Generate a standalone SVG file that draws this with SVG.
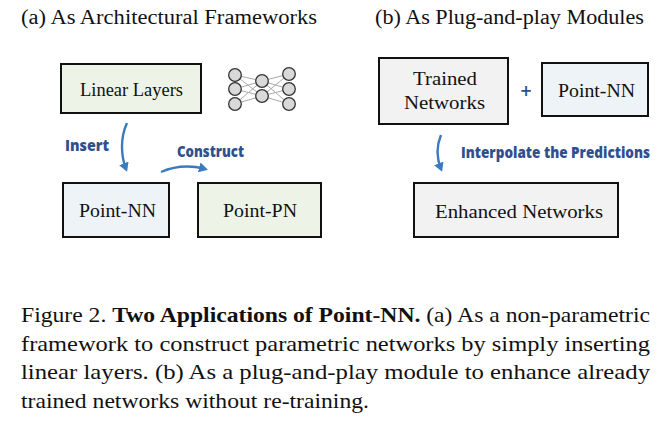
<svg xmlns="http://www.w3.org/2000/svg" width="667" height="421" viewBox="0 0 667 421">
<defs>
<style>
.title{font-family:"Liberation Serif","Times New Roman",serif;font-size:20px;fill:#111}
.box{stroke:#111;stroke-width:2}
.lbl{font-family:"Liberation Serif","Times New Roman",serif;font-size:18px;fill:#111;text-anchor:middle}
.hand{font-family:"Open Sans","DejaVu Sans",sans-serif;font-weight:800;font-size:15.5px;fill:#2f4f8f}
.arr{fill:none;stroke:#3a7bbf;stroke-width:2.4;marker-end:url(#ah)}
.cap{font-family:"Liberation Serif","Times New Roman",serif;font-size:22px;fill:#111}
.nnl{stroke:#aaa;stroke-width:1}
.nnc{fill:#d9d9d9;stroke:#333;stroke-width:1.3}
</style>
<marker id="ah" markerWidth="11" markerHeight="11" refX="6" refY="5.5" orient="auto" markerUnits="userSpaceOnUse">
<path d="M0,0.5 L9,5.5 L0,10.5 Z" fill="#3a7bbf"/>
</marker>
</defs>
<rect width="667" height="421" fill="#fff"/>
<text class="title" x="21" y="24" textLength="296" lengthAdjust="spacingAndGlyphs">(a) As Architectural Frameworks</text>
<text class="title" x="375" y="24" textLength="269" lengthAdjust="spacingAndGlyphs">(b) As Plug-and-play Modules</text>

<g id="linear-layers">
<rect class="box" x="61" y="64" width="140" height="49" fill="#eef3e7"/>
<text class="lbl" x="131.5" y="96" textLength="103" lengthAdjust="spacingAndGlyphs">Linear Layers</text>
</g>
<g id="nn-icon">
<g class="nnl">
<line x1="235" y1="75" x2="262" y2="81"/><line x1="235" y1="75" x2="262" y2="96"/>
<line x1="235" y1="89" x2="262" y2="81"/><line x1="235" y1="89" x2="262" y2="96"/>
<line x1="235" y1="104" x2="262" y2="81"/><line x1="235" y1="104" x2="262" y2="96"/>
<line x1="262" y1="81" x2="289" y2="74"/><line x1="262" y1="81" x2="289" y2="89"/><line x1="262" y1="81" x2="289" y2="104"/>
<line x1="262" y1="96" x2="289" y2="74"/><line x1="262" y1="96" x2="289" y2="89"/><line x1="262" y1="96" x2="289" y2="104"/>
</g>
<g class="nnc">
<circle cx="235" cy="75" r="6.3"/><circle cx="235" cy="89" r="6.3"/><circle cx="235" cy="104" r="6.3"/>
<circle cx="262" cy="81" r="6.3"/><circle cx="262" cy="96" r="6.3"/>
<circle cx="289" cy="74" r="6.3"/><circle cx="289" cy="89" r="6.3"/><circle cx="289" cy="104" r="6.3"/>
</g>
</g>
<g id="point-nn-a">
<rect class="box" x="63" y="183" width="106" height="54" fill="#eef3f8"/>
<text class="lbl" x="117.5" y="217" textLength="77" lengthAdjust="spacingAndGlyphs">Point-NN</text>
</g>
<g id="point-pn">
<rect class="box" x="198" y="183" width="123" height="54" fill="#eef3e7"/>
<text class="lbl" x="260" y="217" textLength="74" lengthAdjust="spacingAndGlyphs">Point-PN</text>
</g>
<g id="trained-networks">
<rect class="box" x="379" y="58" width="129" height="66" fill="#f2f2f2"/>
<text class="lbl" x="445" y="85" textLength="64" lengthAdjust="spacingAndGlyphs">Trained</text>
<text class="lbl" x="444.5" y="109" textLength="81" lengthAdjust="spacingAndGlyphs">Networks</text>
</g>
<g id="point-nn-b">
<rect class="box" x="542" y="63" width="106" height="53" fill="#eef3f8"/>
<text class="lbl" x="596.5" y="97" textLength="77" lengthAdjust="spacingAndGlyphs">Point-NN</text>
</g>
<g id="enhanced-networks">
<rect class="box" x="414" y="183" width="204" height="54" fill="#f2f2f2"/>
<text class="lbl" x="519" y="218" textLength="168" lengthAdjust="spacingAndGlyphs">Enhanced Networks</text>
</g>

<g id="connectors">
<path class="arr" d="M127,123 C120,138 121,156 126,169"/>
<path class="arr" d="M161,172 C175,166 190,165 205,169"/>
<path class="arr" d="M441,135 C436,147 437,159 441,169"/>
</g>
<text class="hand" x="65" y="151" textLength="44" lengthAdjust="spacingAndGlyphs">Insert</text>
<text class="hand" x="177" y="157" textLength="67" lengthAdjust="spacingAndGlyphs">Construct</text>
<text class="hand" transform="translate(461,158) scale(1.3)" x="0" y="0" style="font-size:11.9px" textLength="145.4" lengthAdjust="spacingAndGlyphs">Interpolate the Predictions</text>
<text x="526" y="96" style="font-family:'DejaVu Sans',sans-serif;font-weight:bold;font-size:15px;fill:#2f4f8f" text-anchor="middle">+</text>

<g class="cap">
<text x="21" y="322" textLength="629" lengthAdjust="spacingAndGlyphs">Figure 2. <tspan font-weight="bold">Two Applications of Point-NN.</tspan> (a) As a non-parametric</text>
<text x="21" y="350.5" textLength="629" lengthAdjust="spacingAndGlyphs">framework to construct parametric networks by simply inserting</text>
<text x="21" y="379" textLength="629" lengthAdjust="spacingAndGlyphs">linear layers.  (b) As a plug-and-play module to enhance already</text>
<text x="21" y="407.5" textLength="348" lengthAdjust="spacingAndGlyphs">trained networks without re-training.</text>
</g>
</svg>
